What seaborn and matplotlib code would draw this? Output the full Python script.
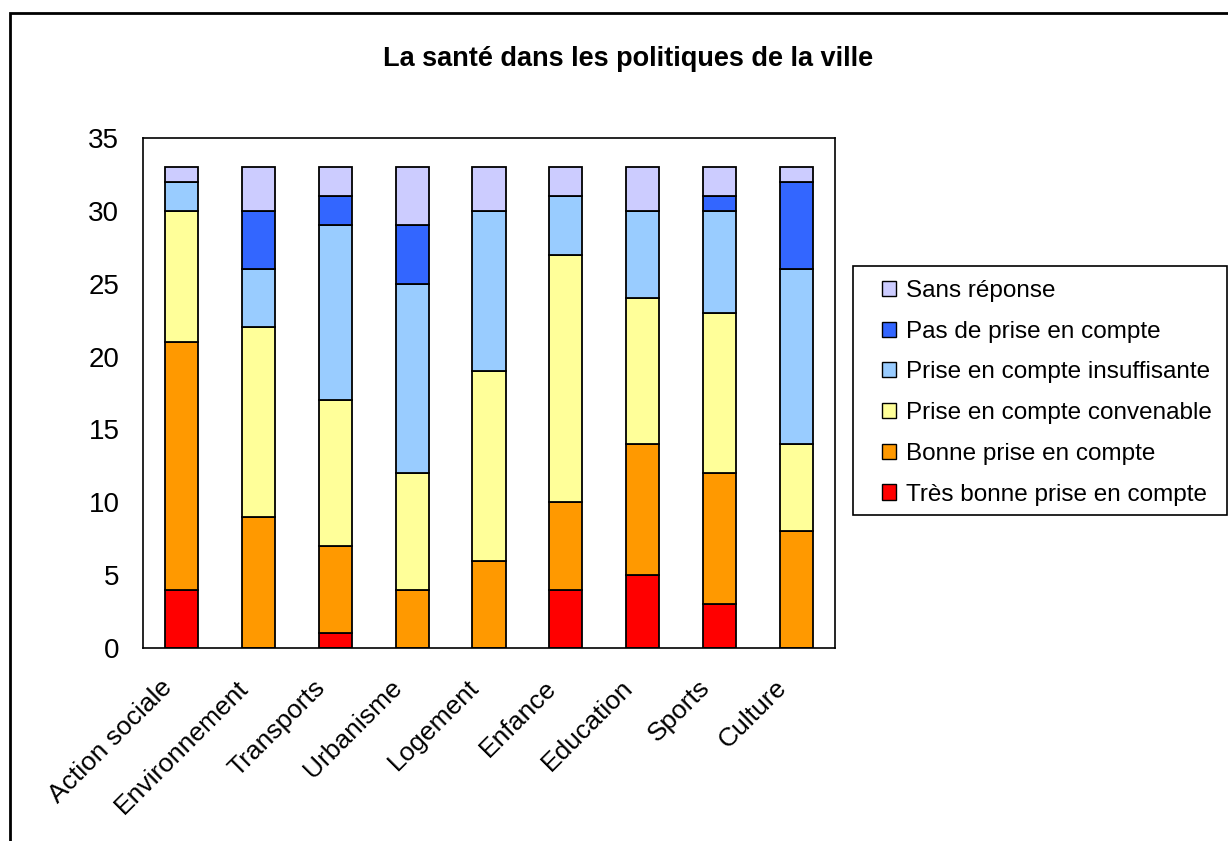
import seaborn as sns
import pandas as pd
import matplotlib.pyplot as plt
from matplotlib.patches import Patch, Rectangle
from matplotlib.transforms import ScaledTranslation

sns.set_theme(style="white")
plt.rcParams["font.family"] = ["Liberation Sans", "DejaVu Sans"]
plt.rcParams["text.color"] = "black"

# Données
domaines = ["Action sociale", "Environnement", "Transports", "Urbanisme", "Logement",
            "Enfance", "Education", "Sports", "Culture"]
niveaux = ["Sans réponse", "Pas de prise en compte", "Prise en compte insuffisante",
           "Prise en compte convenable", "Bonne prise en compte", "Très bonne prise en compte"]
tres_bonne = [4, 0, 1, 0, 0, 4, 5, 3, 0]
bonne = [17, 9, 6, 4, 6, 6, 9, 9, 8]
convenable = [9, 13, 10, 8, 13, 17, 10, 11, 6]
insuffisante = [2, 4, 12, 13, 11, 4, 6, 7, 12]
pas_de_prise = [0, 4, 2, 4, 0, 0, 0, 1, 6]
sans_reponse = [1, 3, 2, 4, 3, 2, 3, 2, 1]
couleurs = ["#CCCCFF", "#3366FF", "#99CCFF", "#FFFF99", "#FF9900", "#FF0000"]

series = [sans_reponse, pas_de_prise, insuffisante, convenable, bonne, tres_bonne]
df = pd.DataFrame([
    {"domaine": d, "niveau": n, "nb": v}
    for n, vals in zip(niveaux, series) for d, v in zip(domaines, vals)
])
df["domaine"] = pd.Categorical(df["domaine"], categories=domaines)

W, H = 1228, 841
fig = plt.figure(figsize=(W/100, H/100), dpi=100)
ax = fig.add_axes([143/W, 1-648/H, (835-143)/W, (648-138)/H])

sns.histplot(data=df, x="domaine", weights="nb", hue="niveau", hue_order=niveaux,
             multiple="stack", discrete=True, shrink=0.43, palette=couleurs,
             alpha=1, edgecolor="black", linewidth=1.3, legend=False, ax=ax)

ax.set_xlim(-0.5, len(domaines) - 0.5)
ax.set_ylim(0, 35)
ax.set_yticks(range(0, 36, 5))
ax.set_xticks(range(len(domaines)))
ax.set_xticklabels(domaines, rotation=45, ha="right", va="top", rotation_mode="anchor")
ax.set_xticks([i - 0.5 for i in range(len(domaines) + 1)], minor=True)
ax.tick_params(axis="x", which="major", length=0, labelsize=19, pad=14)
ax.tick_params(axis="x", which="minor", length=7, width=1.2, direction="out", color="black")
ax.tick_params(axis="y", length=7, width=1.2, direction="out", color="black", labelsize=20, pad=10)
ax.tick_params(axis="both", labelcolor="black")
decal = ScaledTranslation(-22/100, -8/100, fig.dpi_scale_trans)
for lab in ax.get_xticklabels():
    lab.set_transform(lab.get_transform() + decal)
ax.set_xlabel("")
ax.set_ylabel("")
for s in ax.spines.values():
    s.set_color("black")
    s.set_linewidth(1.2)
ax.grid(False)

fig.text(628/W, 1-59/H, "La santé dans les politiques de la ville",
         ha="center", va="center", fontsize=19.5, fontweight="bold", color="black")

# légende sans cadre + cadre dessiné à part
handles = [Patch(facecolor=c, edgecolor="black", linewidth=1) for c in couleurs]
leg = fig.legend(handles, niveaux, loc="upper left", bbox_to_anchor=(882/W, 1-280/H),
                 bbox_transform=fig.transFigure, fontsize=17.5, frameon=False,
                 handlelength=0.58, handleheight=0.58, handletextpad=0.4,
                 labelspacing=0.77, borderpad=0, borderaxespad=0)
for t in leg.get_texts():
    t.set_color("black")
fig.patches.append(Rectangle((853/W, 1-515/H), (1227-853)/W, (515-266)/H,
                             transform=fig.transFigure, fill=False, edgecolor="black",
                             linewidth=1.2))

# cadre extérieur
fig.patches.append(Rectangle((10/W, -0.1), 1.2, 1.1 - 13/H, transform=fig.transFigure,
                             fill=False, edgecolor="black", linewidth=2, clip_on=False))

fig.savefig("out.png", dpi=100)
